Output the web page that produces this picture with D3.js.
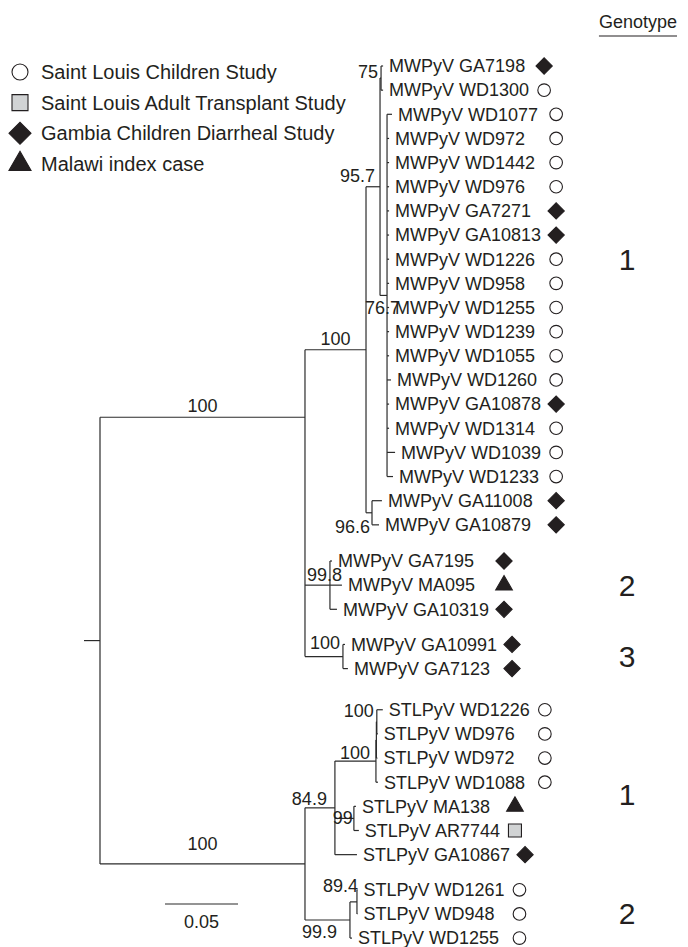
<!DOCTYPE html>
<html>
<head>
<meta charset="utf-8">
<script src="https://cdn.jsdelivr.net/npm/d3@7"></script>
<style>
  body { margin: 0; background: #fff; }
  text { font-family: "Liberation Sans", Arial, sans-serif; fill: #231f20; }
</style>
</head>
<body>
<svg id="chart" width="688" height="947"></svg>
<script>
// Tree (newick): branch lengths in substitutions/site, bootstrap support as internal node label
const newick = `(
 (
  (
   (
    (MWPyV_GA7198:0.0014,MWPyV_WD1300:0.0014)75:0.0007,
    (MWPyV_WD1077:0.0034,MWPyV_WD972:0.0014,MWPyV_WD1442:0.0014,MWPyV_WD976:0.0014,
     MWPyV_GA7271:0.0014,MWPyV_GA10813:0.0014,MWPyV_WD1226:0.0014,MWPyV_WD958:0.0014,
     MWPyV_WD1255:0.0014,MWPyV_WD1239:0.0014,MWPyV_WD1055:0.0014,MWPyV_WD1260:0.0027,
     MWPyV_GA10878:0.0014,MWPyV_WD1314:0.0014,MWPyV_WD1039:0.0055,MWPyV_WD1233:0.0041)76.7:0.0048
   )95.7:0.0096,
   (MWPyV_GA11008:0.0068,MWPyV_GA10879:0.0048)96.6:0.0041
  )100:0.0418,
  (MWPyV_GA7195:0.0014,MWPyV_MA095:0.0082,MWPyV_GA10319:0.0048)99.8:0.0171,
  (MWPyV_GA10991:0.0014,MWPyV_GA7123:0.0034)100:0.026
 )100:0.1404,
 (
  (
   (((STLPyV_WD1226:0.0041,STLPyV_WD976:0.0007)100:0.0003,STLPyV_WD972:0.0007):0.0003,STLPyV_WD1088:0.0014)100:0.0281,
   (STLPyV_MA138:0.0014,STLPyV_AR7744:0.0034)99:0.013,
   STLPyV_GA10867:0.0151
  )84.9:0.0205,
  (
   (STLPyV_WD1261:0.0003,STLPyV_WD948:0.0003)89.4:0.0048,
   STLPyV_WD1255:0.0014
  )99.9:0.0308
 )100:0.1404
);`;

// sample source, read from the sample id prefix
const sources = ['Saint Louis Children Study', 'Saint Louis Adult Transplant Study',
                 'Gambia Children Diarrheal Study', 'Malawi index case'];
const sourcePrefix = ['WD', 'AR', 'GA', 'MA'];
const sourceShape = ['circle', 'square', 'diamond', 'triangle'];

// genotype annotations (label, leaf range)
const genotypes = [
  ['1', 'MWPyV GA7198', 'MWPyV WD1039'],
  ['2', 'MWPyV GA7195', 'MWPyV GA10319'],
  ['3', 'MWPyV GA10991', 'MWPyV GA7123'],
  ['1', 'STLPyV WD976', 'STLPyV GA10867'],
  ['2', 'STLPyV WD1261', 'STLPyV WD1255']
];

// leaves whose markers line up in one column
const markerColumns = [
  ['MWPyV GA7198', 'MWPyV WD1300'],
  ['MWPyV WD1077', 'MWPyV GA10879'],
  ['MWPyV GA7195', 'MWPyV GA10319'],
  ['MWPyV GA10991', 'MWPyV GA7123'],
  ['STLPyV WD1226', 'STLPyV WD1088'],
  ['STLPyV MA138', 'STLPyV AR7744'],
  ['STLPyV GA10867', 'STLPyV GA10867'],
  ['STLPyV WD1261', 'STLPyV WD1255']
];

const scaleBarValue = 0.05;

// ---- layout settings ----
const rootX = 100, pxPerUnit = 1460;
const leafTop = 66, leafStep = 24.15;
const gapBefore = { 'MWPyV GA7195': 12, 'MWPyV GA10991': 11, 'STLPyV WD1226': 17, 'STLPyV WD1261': 11 };
const joinAt = { 'MWPyV GA7198|MWPyV GA7123': 0.22 };
// support label placement, preorder of labelled nodes: [mode, dx, dy]
const supportPos = [
  ['mid', 0, -5], ['mid', 0, -5], ['end', -5, -5], ['end', -3, 0], ['end', 13, 19],
  ['end', -2, 20], ['end', 12, -4], ['end', -3, -8], ['mid', 0, -14], ['end', -8, -3],
  ['end', -6, -2], ['end', -3, -5], ['end', -1, 6], ['end', -13, 18], ['end', 1, -10]
];

function parseNewick(str) {
  const s = str.replace(/\s+/g, '');
  let i = 0;
  function node() {
    const n = {};
    if (s[i] === '(') {
      n.children = [];
      i++;
      do { n.children.push(node()); } while (s[i++] === ',');
    }
    let name = '';
    while (i < s.length && !':,);'.includes(s[i])) name += s[i++];
    n.name = name.replace(/_/g, ' ');
    if (s[i] === ':') {
      i++;
      let len = '';
      while (i < s.length && !',);'.includes(s[i])) len += s[i++];
      n.length = +len;
    }
    return n;
  }
  return node();
}

const svg = d3.select('#chart');
const root = d3.hierarchy(parseNewick(newick));

const x = d3.scaleLinear().domain([0, 1]).range([rootX, rootX + pxPerUnit]);

root.eachBefore(d => { d.dist = d.parent ? d.parent.dist + (d.data.length || 0) : 0; });

let gapSum = 0;
root.leaves().forEach((d, i) => {
  gapSum += gapBefore[d.data.name] || 0;
  d.y = leafTop + i * leafStep + gapSum;
});
root.eachAfter(d => {
  if (!d.children) return;
  const first = d.children[0].y, last = d.children[d.children.length - 1].y;
  const lv = d.leaves();
  const key = lv[0].data.name + '|' + lv[lv.length - 1].data.name;
  const f = joinAt[key] !== undefined ? joinAt[key] : 0.5;
  d.y = first + f * (last - first);
});

const lineColor = '#2b2b2b', lw = 1.2;
const g = svg.append('g').attr('fill', 'none').attr('stroke', lineColor).attr('stroke-width', lw);

// horizontal branches
g.selectAll('line.h').data(root.descendants().filter(d => d.parent)).join('line')
  .attr('x1', d => x(d.parent.dist)).attr('x2', d => x(d.dist))
  .attr('y1', d => d.y).attr('y2', d => d.y);
// verticals
g.selectAll('line.v').data(root.descendants().filter(d => d.children)).join('line')
  .attr('x1', d => x(d.dist)).attr('x2', d => x(d.dist))
  .attr('y1', d => d.children[0].y).attr('y2', d => d.children[d.children.length - 1].y);
// root stub
g.append('line').attr('x1', x(0) - 16).attr('x2', x(0)).attr('y1', root.y).attr('y2', root.y);

// leaf labels
const leafText = svg.append('g').selectAll('text').data(root.leaves()).join('text')
  .attr('x', d => x(d.dist) + 6).attr('y', d => d.y).attr('dy', '0.35em')
  .style('font-size', '18px').text(d => d.data.name);

const leafEnd = new Map();
leafText.each(function (d) { leafEnd.set(d.data.name, x(d.dist) + 6 + this.getComputedTextLength()); });

// support values
const labelled = [];
root.eachBefore(d => { if (d.children && d.data.name) labelled.push(d); });
svg.append('g').selectAll('text').data(labelled).join('text')
  .each(function (d, i) {
    const [mode, dx, dy] = supportPos[i] || ['end', -3, -5];
    const t = d3.select(this);
    if (mode === 'mid') {
      t.attr('x', (x(d.parent.dist) + x(d.dist)) / 2 + dx).attr('text-anchor', 'middle');
    } else {
      t.attr('x', x(d.dist) + dx).attr('text-anchor', 'end');
    }
    t.attr('y', d.y + dy);
  })
  .style('font-size', '18px').text(d => d.data.name);

// symbols
function sym(shape, big) {
  const s = big ? { circle: 201, square: 256, diamond: 242, triangle: 210 }
                : { circle: 125, square: 169, diamond: 132, triangle: 120 };
  const type = shape === 'circle' ? d3.symbolCircle : shape === 'triangle' ? d3.symbolTriangle : d3.symbolSquare;
  return d3.symbol().type(type).size(s[shape])();
}
function drawSymbol(parent, shape, cx, cy, big) {
  const p = parent.append('path').attr('d', sym(shape, big))
    .attr('transform', `translate(${cx},${cy})` + (shape === 'diamond' ? ' rotate(45)' : ''))
    .attr('stroke', '#231f20').attr('stroke-width', 1.1);
  if (shape === 'circle') p.attr('fill', '#fff');
  else if (shape === 'square') p.attr('fill', '#d1d3d4');
  else p.attr('fill', '#231f20');
}

const leaves = root.leaves();
const idx = new Map(leaves.map((d, i) => [d.data.name, i]));
const mg = svg.append('g');
markerColumns.forEach(([a, b]) => {
  const members = leaves.slice(idx.get(a), idx.get(b) + 1);
  const col = d3.max(members, d => leafEnd.get(d.data.name)) + 15;
  members.forEach(d => {
    const id = d.data.name.split(' ')[1];
    const si = sourcePrefix.indexOf(id.slice(0, 2));
    drawSymbol(mg, sourceShape[si], col, d.y, false);
  });
});

// genotype column
const yOf = n => leaves[idx.get(n)].y;
svg.append('text').attr('x', 677).attr('y', 28).attr('text-anchor', 'end')
  .style('font-size', '18px').text('Genotype')
  .each(function () {
    const bb = this.getBBox();
    svg.append('line').attr('x1', bb.x).attr('x2', bb.x + bb.width).attr('y1', 36).attr('y2', 36)
      .attr('stroke', '#231f20').attr('stroke-width', 1.2);
  });
svg.append('g').selectAll('text').data(genotypes).join('text')
  .attr('x', 627).attr('y', d => (yOf(d[1]) + yOf(d[2])) / 2).attr('dy', '0.35em')
  .attr('text-anchor', 'middle').style('font-size', '30px').text(d => d[0]);

// legend
const lg = svg.append('g');
const legendY = d3.scaleLinear().domain([0, 3]).range([72, 164]);
sources.forEach((s, i) => {
  drawSymbol(lg, sourceShape[i], 20, legendY(i), true);
  lg.append('text').attr('x', 41).attr('y', legendY(i)).attr('dy', '0.35em')
    .style('font-size', '20px').text(s);
});

// scale bar
const sbX = 165, sbY = 904;
svg.append('line').attr('x1', sbX).attr('x2', sbX + x(scaleBarValue) - x(0))
  .attr('y1', sbY).attr('y2', sbY).attr('stroke', lineColor).attr('stroke-width', lw);
svg.append('text').attr('x', sbX + (x(scaleBarValue) - x(0)) / 2).attr('y', sbY + 24)
  .attr('text-anchor', 'middle').style('font-size', '18px').text(scaleBarValue.toFixed(2));
</script>
</body>
</html>
